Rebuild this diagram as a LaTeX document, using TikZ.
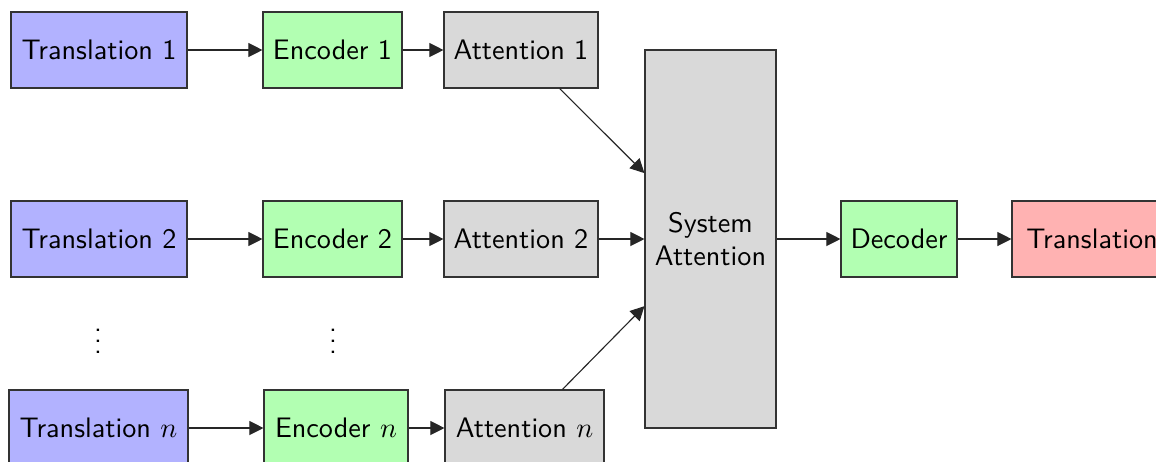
\documentclass[tikz,border=0pt]{standalone}
\usetikzlibrary{arrows.meta}
\def\pxu{0.3546pt}
\begin{document}
\begin{tikzpicture}[x=0.3546pt,y=-0.3546pt,
  font=\sffamily,
  box/.style={draw=black!80, line width=0.4pt, minimum height=76*\pxu, inner xsep=0pt, inner ysep=0pt, anchor=center},
  srcbox/.style={box, fill=blue!30},
  encbox/.style={box, fill=green!30},
  attbox/.style={box, fill=gray!30},
  resbox/.style={box, fill=red!30},
  arr/.style={-{Triangle[length=5pt,width=5pt]}, line width=0.4pt, draw=black!85}]
\useasboundingbox (0,0) rectangle (1156,461);
\clip (0,0) rectangle (1156,461);
% row 1
\node[srcbox, minimum width=176*\pxu] (t1) at (99,50) {Translation 1};
\node[encbox, minimum width=139*\pxu] (e1) at (332.5,50) {Encoder 1};
\node[attbox, minimum width=154*\pxu] (a1) at (521,50) {Attention 1};
% row 2
\node[srcbox, minimum width=176*\pxu] (t2) at (99,239) {Translation 2};
\node[encbox, minimum width=139*\pxu] (e2) at (332.5,239) {Encoder 2};
\node[attbox, minimum width=154*\pxu] (a2) at (521,239) {Attention 2};
% row n
\node[srcbox, minimum width=179*\pxu] (tn) at (98.5,428) {Translation $n$};
\node[encbox, minimum width=144*\pxu] (en) at (336,428) {Encoder $n$};
\node[attbox, minimum width=159*\pxu] (an) at (524.5,428) {Attention $n$};
% dots
\node (d1) at (98,333) {$\vdots$};
\node (d2) at (333,333) {$\vdots$};
% system attention
\node[attbox, minimum width=131*\pxu, minimum height=378*\pxu, align=center] (sys) at (710.5,239) {System\\Attention};
\node[encbox, minimum width=116*\pxu] (dec) at (899,239) {Decoder};
\node[resbox, minimum width=160*\pxu] (res) at (1092,239) {Translation};
% connectors
\draw[arr] (t1) -- (e1);
\draw[arr] (e1) -- (a1);
\draw[arr] (t2) -- (e2);
\draw[arr] (e2) -- (a2);
\draw[arr] (tn) -- (en);
\draw[arr] (en) -- (an);
\draw[arr] (a1) -- (sys);
\draw[arr] (a2) -- (sys);
\draw[arr] (an) -- (sys);
\draw[arr] (sys) -- (dec);
\draw[arr] (dec) -- (res);
\end{tikzpicture}
\end{document}
